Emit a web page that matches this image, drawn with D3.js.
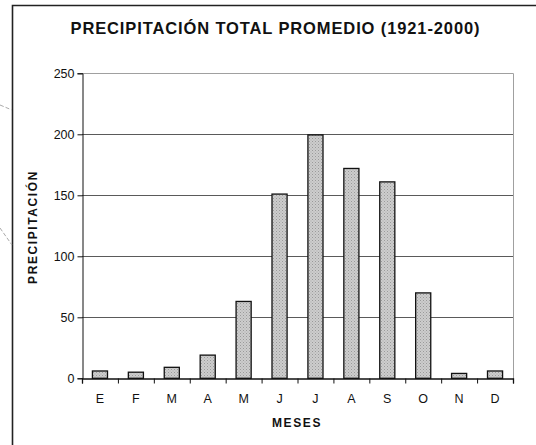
<!DOCTYPE html>
<html>
<head>
<meta charset="utf-8">
<script src="https://cdn.jsdelivr.net/npm/d3@7"></script>
<style>
  html, body { margin: 0; padding: 0; background: #fff; }
  svg { display: block; font-family: Arial, "Liberation Sans", sans-serif; }
</style>
</head>
<body>
<svg id="chart" width="536" height="445"></svg>
<script>
// Monthly average precipitation, 1921-2000
const months = ["E", "F", "M", "A", "M", "J", "J", "A", "S", "O", "N", "D"];
const precipitation = [6, 5, 9, 19, 63, 151, 199.5, 172, 161, 70, 4, 6];
const yTicks = [0, 50, 100, 150, 200, 250];
const title = "PRECIPITACIÓN TOTAL PROMEDIO (1921-2000)";
const xTitle = "MESES";
const yTitle = "PRECIPITACIÓN";

const svg = d3.select("#chart");
const plot = { left: 82, right: 513, top: 73.3, bottom: 378.3 };

// Fine dotted fill for the bars
const defs = svg.append("defs");
const pat = defs.append("pattern")
  .attr("id", "dots").attr("patternUnits", "userSpaceOnUse")
  .attr("width", 3).attr("height", 3);
pat.append("rect").attr("width", 3).attr("height", 3).attr("fill", "#cdcdcd");
pat.append("rect").attr("x", 0).attr("y", 0).attr("width", 1).attr("height", 1).attr("fill", "#9a9a9a");
pat.append("rect").attr("x", 1.5).attr("y", 1.5).attr("width", 1).attr("height", 1).attr("fill", "#aaaaaa");

// Frame around the chart (top and left edges)
svg.append("path")
  .attr("d", "M12.5,445 L12.5,5.5 L536,5.5")
  .attr("fill", "none").attr("stroke", "#222").attr("stroke-width", 1.6);

// Faint stray dashed strokes on the left margin
svg.append("g").attr("stroke", "#aaa").attr("stroke-width", 1)
  .attr("stroke-dasharray", "4,2")
  .selectAll("line").data([[0, 105, 12, 110], [0, 228, 12, 245]])
  .join("line")
  .attr("x1", d => d[0]).attr("y1", d => d[1])
  .attr("x2", d => d[2]).attr("y2", d => d[3]);

const idx = d3.range(months.length);
const x = d3.scaleBand().domain(idx).range([plot.left, plot.right])
  .paddingInner(0.58).paddingOuter(0.29);
const xEdges = d3.scaleLinear().domain([0, months.length]).range([plot.left, plot.right]);
const y = d3.scaleLinear().domain([0, 250]).range([plot.bottom, plot.top]);

// Gridlines
svg.append("g").selectAll("line").data(yTicks.filter(t => t > 0))
  .join("line")
  .attr("x1", plot.left).attr("x2", plot.right)
  .attr("y1", d => Math.round(y(d)) + 0.5).attr("y2", d => Math.round(y(d)) + 0.5)
  .attr("stroke", d => d === 250 ? "#a0a0a0" : "#5a5a5a").attr("stroke-width", 1);

// Right edge of the plot area
svg.append("line")
  .attr("x1", plot.right + 0.5).attr("x2", plot.right + 0.5)
  .attr("y1", y(250)).attr("y2", y(0))
  .attr("stroke", "#a0a0a0");

// Bars
svg.append("g").selectAll("rect").data(precipitation)
  .join("rect")
  .attr("x", (d, i) => x(i))
  .attr("y", d => y(d))
  .attr("width", x.bandwidth())
  .attr("height", d => y(0) - y(d))
  .attr("fill", "url(#dots)")
  .attr("stroke", "#111").attr("stroke-width", 1.3);

// Y axis
const yAxis = svg.append("g")
  .attr("transform", `translate(${plot.left + 0.5},0)`)
  .call(d3.axisLeft(y).tickValues(yTicks).tickSize(5).tickPadding(3));
yAxis.select(".domain").attr("stroke", "#111");
yAxis.selectAll(".tick line").attr("stroke", "#111");
yAxis.selectAll("text").attr("font-size", 12.5).attr("fill", "#111")
  .attr("font-family", "Arial, 'Liberation Sans', sans-serif");

// X axis: ticks on category boundaries
const xAxis = svg.append("g")
  .attr("transform", `translate(0,${Math.round(plot.bottom) + 0.5})`)
  .call(d3.axisBottom(xEdges).tickValues(d3.range(months.length + 1))
    .tickSize(5).tickFormat(""));
xAxis.select(".domain").attr("stroke", "#111").attr("stroke-width", 1.3);
xAxis.selectAll(".tick line").attr("stroke", "#111");

// Month labels
svg.append("g").selectAll("text").data(months)
  .join("text")
  .attr("x", (d, i) => x(i) + x.bandwidth() / 2)
  .attr("y", 402.5)
  .attr("text-anchor", "middle")
  .attr("font-size", 12.5).attr("fill", "#111")
  .text(d => d);

// Title
svg.append("text")
  .attr("x", 275).attr("y", 34)
  .attr("text-anchor", "middle")
  .attr("font-size", 16.5).attr("font-weight", "bold").attr("fill", "#111")
  .attr("textLength", 409).attr("lengthAdjust", "spacing")
  .text(title);

// Axis titles
svg.append("text")
  .attr("x", 297).attr("y", 427)
  .attr("text-anchor", "middle")
  .attr("font-size", 12).attr("font-weight", "bold").attr("fill", "#111")
  .attr("letter-spacing", 1.6)
  .text(xTitle);

svg.append("text")
  .attr("transform", "translate(37,227) rotate(-90)")
  .attr("text-anchor", "middle")
  .attr("font-size", 12).attr("font-weight", "bold").attr("fill", "#111")
  .attr("letter-spacing", 1.6)
  .text(yTitle);
</script>
</body>
</html>
